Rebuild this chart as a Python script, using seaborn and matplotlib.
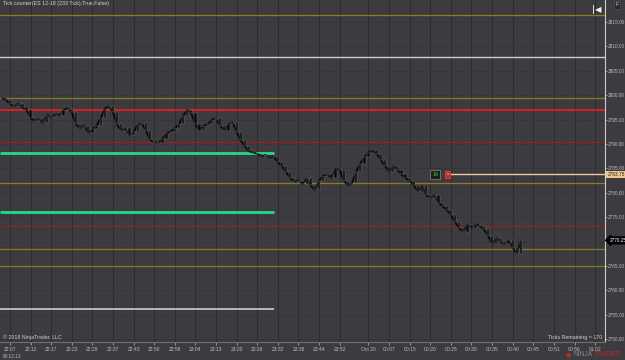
import matplotlib
matplotlib.use("Agg")
import matplotlib.pyplot as plt
import matplotlib.transforms as mtransforms
import numpy as np
import pandas as pd
import seaborn as sns

# ---------------- data ----------------
bar_index = list(range(-2, 125))
close_prices = [
    2799.50, 2799.00, 2798.25, 2797.75, 2798.25, 2797.50, 2797.00, 2795.25, 2794.75, 2795.25,
    2794.25, 2796.00, 2795.50, 2796.25, 2795.75, 2797.00, 2797.25, 2796.50, 2794.00, 2793.25,
    2793.75, 2792.25, 2793.00, 2793.75, 2795.25, 2797.25, 2797.75, 2796.50, 2794.00, 2792.75,
    2793.25, 2791.75, 2792.50, 2794.00, 2794.25, 2792.75, 2790.75, 2790.50, 2790.25, 2791.00,
    2792.25, 2792.50, 2793.25, 2794.00, 2795.75, 2797.00, 2796.25, 2794.00, 2792.75, 2793.75,
    2794.00, 2795.00, 2795.25, 2793.75, 2792.75, 2794.00, 2794.50, 2792.50, 2790.75, 2789.50,
    2788.50, 2788.25, 2788.00, 2787.50, 2787.75, 2787.25, 2787.50, 2786.25, 2785.50, 2784.25,
    2783.00, 2782.25, 2782.50, 2781.75, 2783.00, 2781.50, 2780.50, 2782.50, 2783.50, 2783.75,
    2783.00, 2785.00, 2784.75, 2782.50, 2781.50, 2782.00, 2784.25, 2786.00, 2787.25, 2788.25,
    2788.75, 2788.00, 2786.75, 2785.50, 2784.25, 2785.50, 2784.75, 2783.75, 2783.00, 2782.50,
    2781.50, 2780.25, 2781.50, 2779.50, 2779.00, 2779.50, 2778.00, 2777.25, 2776.50, 2775.50,
    2774.00, 2772.75, 2772.00, 2773.50, 2772.75, 2773.50, 2773.25, 2772.50, 2771.25, 2769.50,
    2770.75, 2770.00, 2769.50, 2770.25, 2768.75, 2767.50, 2770.25,
]
first_open = 2799.75

x_tick_positions = list(range(0, 81, 5)) + list(range(87, 143, 5))
x_tick_labels = ["22:07", "22:12", "22:17", "22:23", "22:29", "22:37", "22:43", "22:50",
                 "22:58", "23:04", "23:13", "23:20", "23:26", "23:32", "23:38", "23:44",
                 "23:52", "Oct 20", "00:07", "00:15", "00:20", "00:25", "00:30", "00:35",
                 "00:40", "00:45", "00:51", "00:56", "01:02"]
y_ticks = [2750, 2755, 2760, 2765, 2770, 2775, 2780, 2785, 2790, 2795, 2800, 2805, 2810, 2815]
y_tick_labels = ["2750.00", "2755.00", "2760.00", "2765.00", "", "2775.00", "2780.00",
                 "2785.00", "2790.00", "2795.00", "2800.00", "2805.00", "2810.00", "2815.00"]

# horizontal levels: full width
full_levels = [2816.50, 2807.75, 2799.50, 2797.00, 2790.50, 2782.00, 2773.25, 2768.50, 2765.00]
full_colors = ["#8c7b1c", "#cfcfcf", "#8c7b1c", "#e3201e", "#9a1f1f", "#8c7b1c", "#9a1f1f", "#8c7b1c", "#8c7b1c"]
full_widths = [0.9, 1.0, 0.9, 1.3, 0.8, 0.9, 0.8, 0.9, 0.9]
# partial levels ending near 23:26
part_levels = [2788.25, 2776.00, 2756.25]
part_colors = ["#1fde82", "#1fde82", "#cfcfcf"]
part_widths = [2.0, 2.0, 1.2]
part_end = 64

order_price = 2783.75
last_price = 2770.25

# ---------------- figure ----------------
sns.set_theme(style="dark")
plt.rcParams["font.family"] = ["Liberation Sans", "DejaVu Sans"]

BG = "#3b3b40"
fig = plt.figure(figsize=(6.25, 3.6), dpi=100, facecolor=BG)
ax = fig.add_axes([0, 18 / 360, 605 / 625, 342 / 360])
ax.set_facecolor(BG)

ax.set_xlim(-2.43, 144.4)
ax.set_ylim(2749.43, 2819.5)

# grid
for xp in x_tick_positions:
    ax.axvline(xp, color="#2c2c30", lw=0.8, zorder=0)
for yp in y_ticks:
    ax.axhline(yp, color="#35353a", lw=0.6, zorder=0)

# levels
for lv, c, w in zip(full_levels, full_colors, full_widths):
    ax.axhline(lv, color=c, lw=w, zorder=1)
for lv, c, w in zip(part_levels, part_colors, part_widths):
    ax.hlines(lv, -2.43, part_end, color=c, lw=w, zorder=1)

# price series
df = pd.DataFrame({"bar": bar_index, "close": close_prices})
df["open"] = [first_open] + close_prices[:-1]
sns.lineplot(data=df, x="bar", y="close", color="#050505", lw=1.3, ax=ax, zorder=3)
body = (df["close"] - df["open"]).to_numpy()
body = np.where(np.abs(body) < 0.2, 0.2, body)
ax.bar(df["bar"], body, bottom=df["open"], width=0.55, color="#080808",
       edgecolor="#8e8e8e", linewidth=0.25, zorder=4)

# order line
ax.hlines(order_price, 106.9, 144.4, color="#f2c896", lw=1.0, zorder=2)
ax.text(103.2, order_price, "14", color="#3fcf3f", fontsize=3.8, ha="center", va="center",
        zorder=5, bbox=dict(boxstyle="square,pad=0.35", fc="#1e1e1e", ec="#8a8a8a", lw=0.5))
ax.text(106.2, order_price, "x", color="#ffffff", fontsize=3.2, ha="center", va="center",
        zorder=5, bbox=dict(boxstyle="square,pad=0.25", fc="#d42020", ec="#ff5050", lw=0.4))

# axes styling
ax.yaxis.tick_right()
ax.set_yticks(y_ticks)
ax.set_yticklabels(y_tick_labels)
ax.set_xticks(x_tick_positions)
ax.set_xticklabels(x_tick_labels)
ax.tick_params(axis="y", colors="#bdbdbd", labelsize=3.4, length=1.5, width=0.5, pad=0.8, right=True, left=False)
ax.tick_params(axis="x", colors="#bdbdbd", labelsize=3.6, length=2, width=0.5, pad=1.5, bottom=True)
ax.set_xlabel("")
ax.set_ylabel("")
for s in ["top", "left"]:
    ax.spines[s].set_visible(False)
ax.spines["right"].set_color("#cfcfcf")
ax.spines["right"].set_linewidth(0.8)
ax.spines["bottom"].set_color("#707070")
ax.spines["bottom"].set_linewidth(0.8)
ax.grid(False)

# price tags on axis
trans = mtransforms.blended_transform_factory(ax.transAxes, ax.transData)
ax.text(1.004, order_price, "2783.75", transform=trans, fontsize=3.4, color="#202020",
        va="center", ha="left", clip_on=False, zorder=6,
        bbox=dict(boxstyle="square,pad=0.2", fc="#f2c48f", ec="none"))
ax.text(1.007, last_price, "2770.25", transform=trans, fontsize=3.4, color="#ffffff",
        va="center", ha="left", clip_on=False, zorder=6,
        bbox=dict(boxstyle="larrow,pad=0.2", fc="#000000", ec="#000000"))

# texts
fig.text(3 / 625, 1 - 4 / 360, "Tick counter(ES 12-18 (233 Tick),True,False)", fontsize=3.8,
         color="#d6d6d6", va="center", ha="left")
fig.text(3 / 625, 1 - 337 / 360, "\u00a9 2018 NinjaTrader, LLC", fontsize=3.8,
         color="#d0d0d0", va="center", ha="left")
fig.text(602 / 625, 1 - 337 / 360, "Ticks Remaining = 170", fontsize=3.8,
         color="#d0d0d0", va="center", ha="right")
fig.text(3 / 625, 1 - 356 / 360, "00:12:13", fontsize=3.4, color="#bdbdbd", va="center", ha="left")
fig.text(566 / 625, 1 - 355 / 360, "\u25cf", fontsize=4.5, color="#c0262d", va="center", ha="left",
         family=["DejaVu Sans"])
fig.text(574 / 625, 1 - 355 / 360, "NINJA", fontsize=4.8, color="#8a8a8a", va="center", ha="left")
fig.text(594 / 625, 1 - 355 / 360, "TRADER", fontsize=4.8, color="#c0262d", va="center", ha="left")
fig.text(617 / 625, 1 - 5 / 360, "F", fontsize=4, color="#d0d0d0", va="center", ha="center",
         bbox=dict(boxstyle="square,pad=0.3", fc="#2a2a2e", ec="#555555", lw=0.4))
fig.text(597 / 625, 1 - 9 / 360, "|\u25c0", fontsize=6, color="#f0f0f0", va="center", ha="center",
         fontweight="bold", family=["DejaVu Sans"])

fig.savefig("out.png", dpi=100, facecolor=BG)
